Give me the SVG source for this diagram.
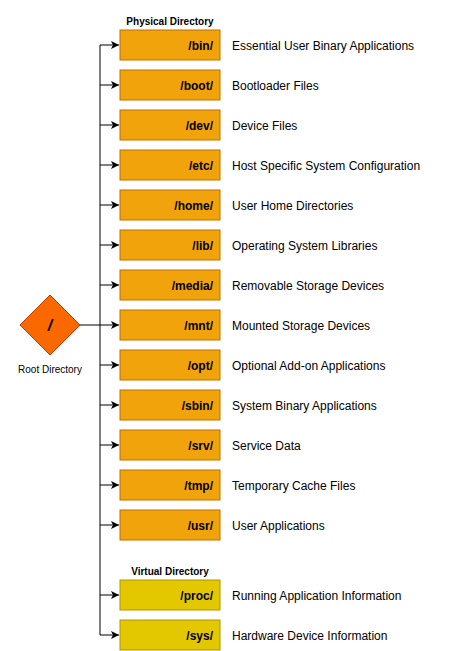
<svg xmlns="http://www.w3.org/2000/svg" width="470" height="651" viewBox="0 0 470 651">
<style>
.b{fill:#F0A30A;stroke:#BD7000;stroke-width:1}
.v{fill:#E3C800;stroke:#B09500;stroke-width:1}
.n{font-family:"Liberation Sans",Arial,sans-serif;font-size:12px;font-weight:bold;fill:#000;text-anchor:end}
.d{font-family:"Liberation Sans",Arial,sans-serif;font-size:12px;fill:#000}
.h{font-family:"Liberation Sans",Arial,sans-serif;font-size:10px;font-weight:bold;fill:#000;text-anchor:middle}
.c{fill:none;stroke:#000;stroke-width:1}
</style>
<defs>
<marker id="a" markerWidth="10" markerHeight="10" refX="8" refY="5" orient="auto" markerUnits="userSpaceOnUse">
<path d="M0,1 L8,5 L0,9 L2,5 Z" fill="#000"/>
</marker>
</defs>
<rect width="470" height="651" fill="#fff"/>
<g id="connectors">
<path class="c" d="M80,325 H100"/>
<path class="c" d="M100,45 V635"/>
<path class="c" d="M100,45 H119" marker-end="url(#a)"/>
<path class="c" d="M100,85 H119" marker-end="url(#a)"/>
<path class="c" d="M100,125 H119" marker-end="url(#a)"/>
<path class="c" d="M100,165 H119" marker-end="url(#a)"/>
<path class="c" d="M100,205 H119" marker-end="url(#a)"/>
<path class="c" d="M100,245 H119" marker-end="url(#a)"/>
<path class="c" d="M100,285 H119" marker-end="url(#a)"/>
<path class="c" d="M100,325 H119" marker-end="url(#a)"/>
<path class="c" d="M100,365 H119" marker-end="url(#a)"/>
<path class="c" d="M100,405 H119" marker-end="url(#a)"/>
<path class="c" d="M100,445 H119" marker-end="url(#a)"/>
<path class="c" d="M100,485 H119" marker-end="url(#a)"/>
<path class="c" d="M100,525 H119" marker-end="url(#a)"/>
<path class="c" d="M100,595 H119" marker-end="url(#a)"/>
<path class="c" d="M100,635 H119" marker-end="url(#a)"/>
</g>
<g id="root">
<path d="M50,295 L80,325 L50,355 L20,325 Z" fill="#FA6800" stroke="#C73500"/>
<text x="50" y="331" font-family="Liberation Sans,Arial,sans-serif" font-size="16" font-weight="bold" font-style="italic" text-anchor="middle">/</text>
<text x="50" y="373" font-family="Liberation Sans,Arial,sans-serif" font-size="10" text-anchor="middle">Root Directory</text>
</g>
<text class="h" x="170" y="25">Physical Directory</text>
<text class="h" x="170" y="575">Virtual Directory</text>
<g id="bin"><rect class="b" x="120" y="30" width="100" height="30"/><text class="n" x="213" y="50">/bin/</text><text class="d" x="232" y="50">Essential User Binary Applications</text></g>
<g id="boot"><rect class="b" x="120" y="70" width="100" height="30"/><text class="n" x="213" y="90">/boot/</text><text class="d" x="232" y="90">Bootloader Files</text></g>
<g id="dev"><rect class="b" x="120" y="110" width="100" height="30"/><text class="n" x="213" y="130">/dev/</text><text class="d" x="232" y="130">Device Files</text></g>
<g id="etc"><rect class="b" x="120" y="150" width="100" height="30"/><text class="n" x="213" y="170">/etc/</text><text class="d" x="232" y="170">Host Specific System Configuration</text></g>
<g id="home"><rect class="b" x="120" y="190" width="100" height="30"/><text class="n" x="213" y="210">/home/</text><text class="d" x="232" y="210">User Home Directories</text></g>
<g id="lib"><rect class="b" x="120" y="230" width="100" height="30"/><text class="n" x="213" y="250">/lib/</text><text class="d" x="232" y="250">Operating System Libraries</text></g>
<g id="media"><rect class="b" x="120" y="270" width="100" height="30"/><text class="n" x="213" y="290">/media/</text><text class="d" x="232" y="290">Removable Storage Devices</text></g>
<g id="mnt"><rect class="b" x="120" y="310" width="100" height="30"/><text class="n" x="213" y="330">/mnt/</text><text class="d" x="232" y="330">Mounted Storage Devices</text></g>
<g id="opt"><rect class="b" x="120" y="350" width="100" height="30"/><text class="n" x="213" y="370">/opt/</text><text class="d" x="232" y="370">Optional Add-on Applications</text></g>
<g id="sbin"><rect class="b" x="120" y="390" width="100" height="30"/><text class="n" x="213" y="410">/sbin/</text><text class="d" x="232" y="410">System Binary Applications</text></g>
<g id="srv"><rect class="b" x="120" y="430" width="100" height="30"/><text class="n" x="213" y="450">/srv/</text><text class="d" x="232" y="450">Service Data</text></g>
<g id="tmp"><rect class="b" x="120" y="470" width="100" height="30"/><text class="n" x="213" y="490">/tmp/</text><text class="d" x="232" y="490">Temporary Cache Files</text></g>
<g id="usr"><rect class="b" x="120" y="510" width="100" height="30"/><text class="n" x="213" y="530">/usr/</text><text class="d" x="232" y="530">User Applications</text></g>
<g id="proc"><rect class="v" x="120" y="580" width="100" height="30"/><text class="n" x="213" y="600">/proc/</text><text class="d" x="232" y="600">Running Application Information</text></g>
<g id="sys"><rect class="v" x="120" y="620" width="100" height="30"/><text class="n" x="213" y="640">/sys/</text><text class="d" x="232" y="640">Hardware Device Information</text></g>
</svg>
